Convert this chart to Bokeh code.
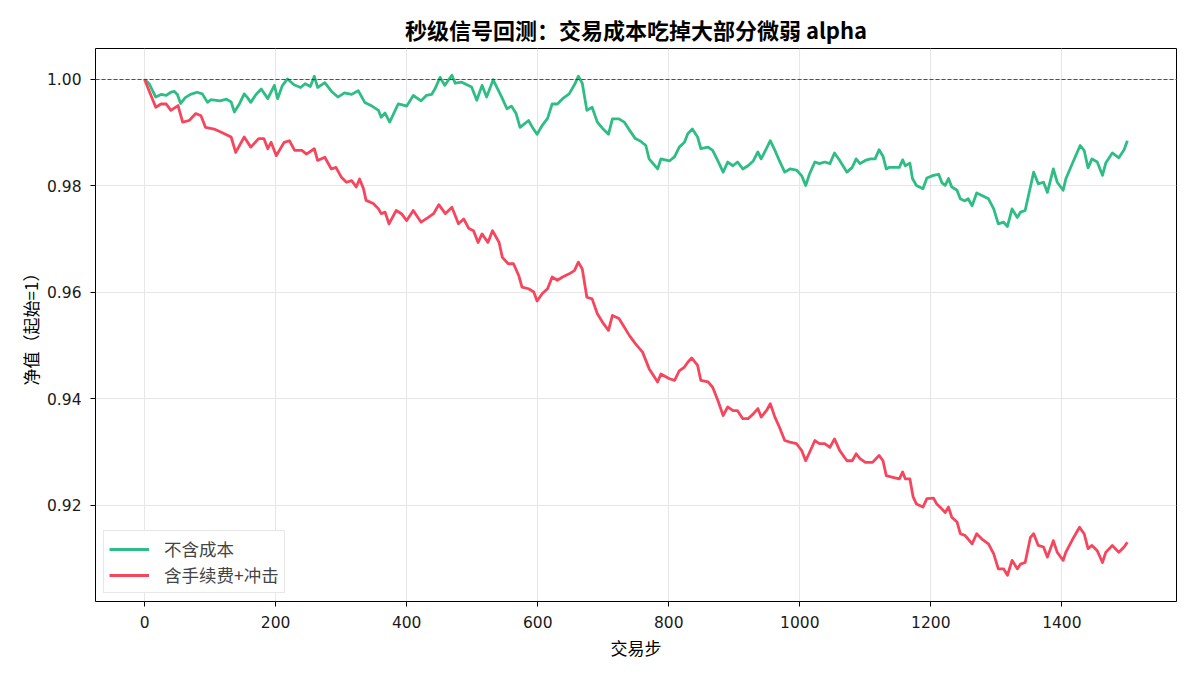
from bokeh.plotting import figure
from bokeh.models import Range1d, FixedTicker, NumeralTickFormatter, Span, Legend, LegendItem, ColumnDataSource
from bokeh.embed import file_html
from bokeh.resources import INLINE

TITLE = "秒级信号回测：交易成本吃掉大部分微弱 alpha"
X_LABEL = "交易步"
Y_LABEL = "净值（起始=1）"
SERIES_NAMES = ["不含成本", "含手续费+冲击"]
X_TICKS = [0, 200, 400, 600, 800, 1000, 1200, 1400]
Y_TICKS = [0.92, 0.94, 0.96, 0.98, 1.00]

green_t = [0, 7, 17, 25, 33, 40, 45, 50, 55, 62, 70, 80, 88, 96, 101, 115, 125, 132, 137, 145,
           152, 157, 162, 170, 178, 188, 198, 203, 210, 218, 228, 238, 245, 253, 259, 264, 270, 275, 285, 295,
           305, 316, 326, 336, 347, 357, 361, 367, 374, 387, 395, 400, 410, 422, 430, 438, 443, 451, 458, 469,
           474, 484, 492, 499, 507, 515, 522, 532, 545, 553, 560, 567, 573, 586, 592, 599, 607, 615, 622, 630,
           638, 648, 656, 662, 668, 675, 683, 691, 699, 708, 714, 724, 732, 740, 749, 757, 765, 770, 783, 788,
           801, 809, 816, 824, 829, 836, 844, 849, 860, 867, 875, 883, 890, 898, 905, 913, 921, 929, 936, 941,
           949, 955, 962, 969, 977, 985, 995, 1003, 1009, 1015, 1023, 1030, 1038, 1046, 1053, 1061, 1072, 1080, 1086, 1092,
           1100, 1108, 1115, 1121, 1127, 1132, 1137, 1145, 1152, 1157, 1161, 1168, 1172, 1178, 1188, 1194, 1204, 1212, 1217, 1222,
           1227, 1232, 1240, 1245, 1252, 1257, 1263, 1270, 1278, 1288, 1296, 1303, 1311, 1317, 1324, 1332, 1337, 1344, 1352, 1357,
           1364, 1372, 1378, 1387, 1393, 1402, 1406, 1418, 1428, 1434, 1440, 1446, 1454, 1462, 1467, 1477, 1487, 1495, 1500]
green_v = [1.0, 0.9992, 0.9967, 0.9972, 0.9970, 0.9976, 0.9978, 0.9972, 0.9955, 0.9966, 0.9972, 0.9976, 0.9973, 0.9957, 0.9962, 0.9960, 0.9963, 0.9958, 0.9939, 0.9955,
           0.9973, 0.9966, 0.9957, 0.9972, 0.9982, 0.9964, 0.9989, 0.9964, 0.9988, 1.0001, 0.9990, 0.9985, 0.9992, 0.9987, 1.0006, 0.9985, 0.9990, 0.9994, 0.9978, 0.9967,
           0.9975, 0.9972, 0.9979, 0.9957, 0.9950, 0.9942, 0.9929, 0.9937, 0.9920, 0.9954, 0.9952, 0.9950, 0.9970, 0.9960, 0.9970, 0.9972, 0.9982, 1.0004, 0.9989, 1.0008,
           0.9993, 0.9995, 0.9990, 0.9986, 0.9961, 0.9989, 0.9967, 0.99995, 0.9967, 0.9945, 0.9950, 0.9936, 0.9910, 0.9923, 0.9910, 0.9897, 0.9914, 0.9927, 0.9954, 0.9954,
           0.9964, 0.9973, 0.9990, 1.0006, 0.9993, 0.9942, 0.9948, 0.9920, 0.9908, 0.9897, 0.9926, 0.9926, 0.9920, 0.9905, 0.9889, 0.9884, 0.9876, 0.9851, 0.9832, 0.9851,
           0.9847, 0.9855, 0.9873, 0.9882, 0.9898, 0.9907, 0.9892, 0.9870, 0.9873, 0.9867, 0.9847, 0.9826, 0.9845, 0.9838, 0.9845, 0.9832, 0.9838, 0.9847, 0.9864, 0.9851,
           0.9870, 0.9885, 0.9867, 0.9847, 0.9826, 0.9832, 0.9830, 0.9819, 0.9801, 0.9823, 0.9845, 0.9842, 0.9845, 0.9842, 0.9862, 0.9848, 0.9826, 0.9835, 0.9851, 0.9842,
           0.9848, 0.9851, 0.9851, 0.9868, 0.9856, 0.9832, 0.9835, 0.9835, 0.9835, 0.9849, 0.9838, 0.9843, 0.9814, 0.9801, 0.9795, 0.9815, 0.9820, 0.9822, 0.9806, 0.9801,
           0.9814, 0.9798, 0.9792, 0.9776, 0.9772, 0.9776, 0.9763, 0.9787, 0.9782, 0.9776, 0.9757, 0.9729, 0.9732, 0.9724, 0.9757, 0.9741, 0.9751, 0.9754, 0.9798, 0.9826,
           0.9804, 0.9807, 0.9788, 0.9832, 0.9807, 0.9792, 0.9813, 0.9848, 0.9876, 0.9867, 0.9834, 0.9851, 0.9845, 0.9820, 0.9843, 0.9862, 0.9853, 0.9868, 0.9885]

red_t = [0, 8, 17, 25, 33, 40, 51, 58, 68, 78, 86, 93, 106, 117, 132, 139, 152, 162, 174, 182,
         188, 193, 201, 213, 221, 229, 240, 247, 259, 264, 275, 285, 292, 300, 308, 316, 323, 328, 334, 338,
         349, 357, 361, 367, 373, 384, 392, 400, 410, 422, 433, 441, 449, 459, 469, 479, 487, 495, 502, 509,
         515, 524, 531, 541, 546, 555, 563, 571, 576, 586, 594, 599, 607, 615, 622, 630, 638, 648, 656, 662,
         668, 675, 683, 691, 699, 708, 714, 724, 732, 740, 749, 760, 770, 783, 788, 801, 809, 816, 824, 829,
         835, 844, 849, 860, 867, 875, 883, 890, 898, 905, 913, 921, 929, 936, 941, 949, 955, 962, 969, 977,
         985, 995, 1003, 1009, 1015, 1023, 1030, 1038, 1046, 1053, 1061, 1072, 1080, 1086, 1092, 1100, 1111, 1121, 1127, 1132,
         1142, 1152, 1157, 1161, 1168, 1173, 1178, 1188, 1194, 1204, 1209, 1214, 1222, 1227, 1232, 1240, 1245, 1252, 1257, 1263,
         1270, 1278, 1288, 1296, 1303, 1311, 1317, 1324, 1332, 1337, 1344, 1352, 1357, 1364, 1372, 1378, 1387, 1393, 1402, 1406,
         1418, 1427, 1434, 1440, 1446, 1454, 1462, 1467, 1477, 1487, 1495, 1500]
red_v = [1.0, 0.9975, 0.9948, 0.9954, 0.9954, 0.9942, 0.9951, 0.9920, 0.9923, 0.9936, 0.9932, 0.9910, 0.9907, 0.9901, 0.9892, 0.9863, 0.9892, 0.9873, 0.9889, 0.9889,
         0.9870, 0.9882, 0.9857, 0.9882, 0.9885, 0.9867, 0.9867, 0.9860, 0.9870, 0.9848, 0.9854, 0.9832, 0.9835, 0.9817, 0.9807, 0.9810, 0.9798, 0.9813, 0.9795, 0.9773,
         0.9767, 0.9757, 0.9748, 0.9751, 0.9729, 0.9754, 0.9748, 0.9735, 0.9754, 0.9732, 0.9741, 0.9748, 0.9765, 0.9748, 0.9760, 0.9729, 0.9738, 0.9720, 0.9716, 0.9694,
         0.9710, 0.9694, 0.9716, 0.9694, 0.9666, 0.9654, 0.9654, 0.9632, 0.9610, 0.9607, 0.9601, 0.9584, 0.9598, 0.9607, 0.9629, 0.9623, 0.9629, 0.9635, 0.9641, 0.9657,
         0.9644, 0.9591, 0.9588, 0.9560, 0.9544, 0.9529, 0.9557, 0.9551, 0.9535, 0.9519, 0.9504, 0.9488, 0.9457, 0.9432, 0.9447, 0.9438, 0.9435, 0.9453, 0.9460, 0.9469,
         0.9477, 0.9463, 0.9435, 0.9432, 0.9422, 0.9397, 0.9369, 0.9385, 0.9378, 0.9378, 0.9363, 0.9363, 0.9372, 0.9382, 0.9366, 0.9378, 0.9391, 0.9366, 0.9347, 0.9322,
         0.9319, 0.9316, 0.9303, 0.9284, 0.9300, 0.9322, 0.9316, 0.9316, 0.9309, 0.9325, 0.9303, 0.9284, 0.9284, 0.9297, 0.9288, 0.9281, 0.9281, 0.9294, 0.9284, 0.9256,
         0.9253, 0.9250, 0.9263, 0.9250, 0.9250, 0.9216, 0.9203, 0.9197, 0.9213, 0.9214, 0.9203, 0.9197, 0.9187, 0.9197, 0.9178, 0.9169, 0.9147, 0.9144, 0.9137, 0.9128,
         0.9147, 0.9137, 0.9128, 0.9109, 0.9081, 0.9081, 0.9069, 0.9097, 0.9081, 0.9090, 0.9093, 0.9140, 0.9147, 0.9125, 0.9122, 0.9103, 0.9134, 0.9112, 0.9097, 0.9112,
         0.9140, 0.9159, 0.9147, 0.9119, 0.9125, 0.9115, 0.9093, 0.9112, 0.9125, 0.9112, 0.9122, 0.9131]

GREEN = "#2EBD85"
RED = "#F6465D"
CJK = "'Noto Sans CJK SC', sans-serif"
NUM = "'DejaVu Sans', 'Noto Sans CJK SC', sans-serif"

p = figure(width=1196, height=676, output_backend="svg", toolbar_location=None,
           x_range=Range1d(-75, 1575), y_range=Range1d(0.90197, 1.00582),
           min_border_left=95, min_border_right=20, min_border_top=48, min_border_bottom=75)

p.title.text = TITLE
p.title.align = "center"
p.title.text_font = CJK
p.title.text_font_size = "22px"
p.title.text_font_style = "bold"
p.title.text_color = "#000000"
p.title.standoff = 7

p.outline_line_color = "#000000"
p.outline_line_width = 1
p.outline_line_alpha = 1

p.xgrid.grid_line_color = "#e6e6e6"
p.ygrid.grid_line_color = "#e6e6e6"
p.xgrid.ticker = FixedTicker(ticks=X_TICKS)
p.ygrid.ticker = FixedTicker(ticks=Y_TICKS)

for ax in (p.xaxis[0], p.yaxis[0]):
    ax.axis_line_color = None
    ax.major_tick_line_color = "#000000"
    ax.major_tick_out = 5
    ax.major_tick_in = 0
    ax.minor_tick_line_color = None
    ax.major_label_text_font = NUM
    ax.major_label_text_font_size = "15.5px"
    ax.major_label_text_color = "#1a1a1a"
    ax.axis_label_text_font = CJK
    ax.axis_label_text_font_size = "17px"
    ax.axis_label_text_font_style = "normal"
    ax.axis_label_text_color = "#000000"

p.xaxis.ticker = FixedTicker(ticks=X_TICKS)
p.yaxis.ticker = FixedTicker(ticks=Y_TICKS)
p.yaxis.formatter = NumeralTickFormatter(format="0.00")
p.xaxis.axis_label = X_LABEL
p.yaxis.axis_label = Y_LABEL
p.xaxis.major_label_standoff = 9
p.yaxis.major_label_standoff = 9
p.xaxis.axis_label_standoff = 4
p.yaxis.axis_label_standoff = 1

span = Span(location=1.0, dimension="width", line_color="#333333", line_alpha=0.85,
            line_dash="4 2", line_width=1)
p.add_layout(span)

src_g = ColumnDataSource(dict(x=green_t, y=green_v))
src_r = ColumnDataSource(dict(x=red_t, y=red_v))
rg = p.line("x", "y", source=src_g, line_color=GREEN, line_width=2.8, line_join="round")
rr = p.line("x", "y", source=src_r, line_color=RED, line_width=2.8, line_join="round")

legend = Legend(items=[LegendItem(label=SERIES_NAMES[0], renderers=[rg]),
                       LegendItem(label=SERIES_NAMES[1], renderers=[rr])],
                location="bottom_left")
legend.label_text_font = CJK
legend.label_text_font_size = "17.5px"
legend.label_height = 20
legend.glyph_height = 20
legend.glyph_width = 40
legend.label_standoff = 15
legend.border_line_color = "#d0d0d0"
legend.border_line_width = 1
legend.background_fill_alpha = 0.9
legend.margin = 8
legend.padding = 5
legend.spacing = 1
p.add_layout(legend)

open("out.html", "w").write(file_html(p, INLINE))
